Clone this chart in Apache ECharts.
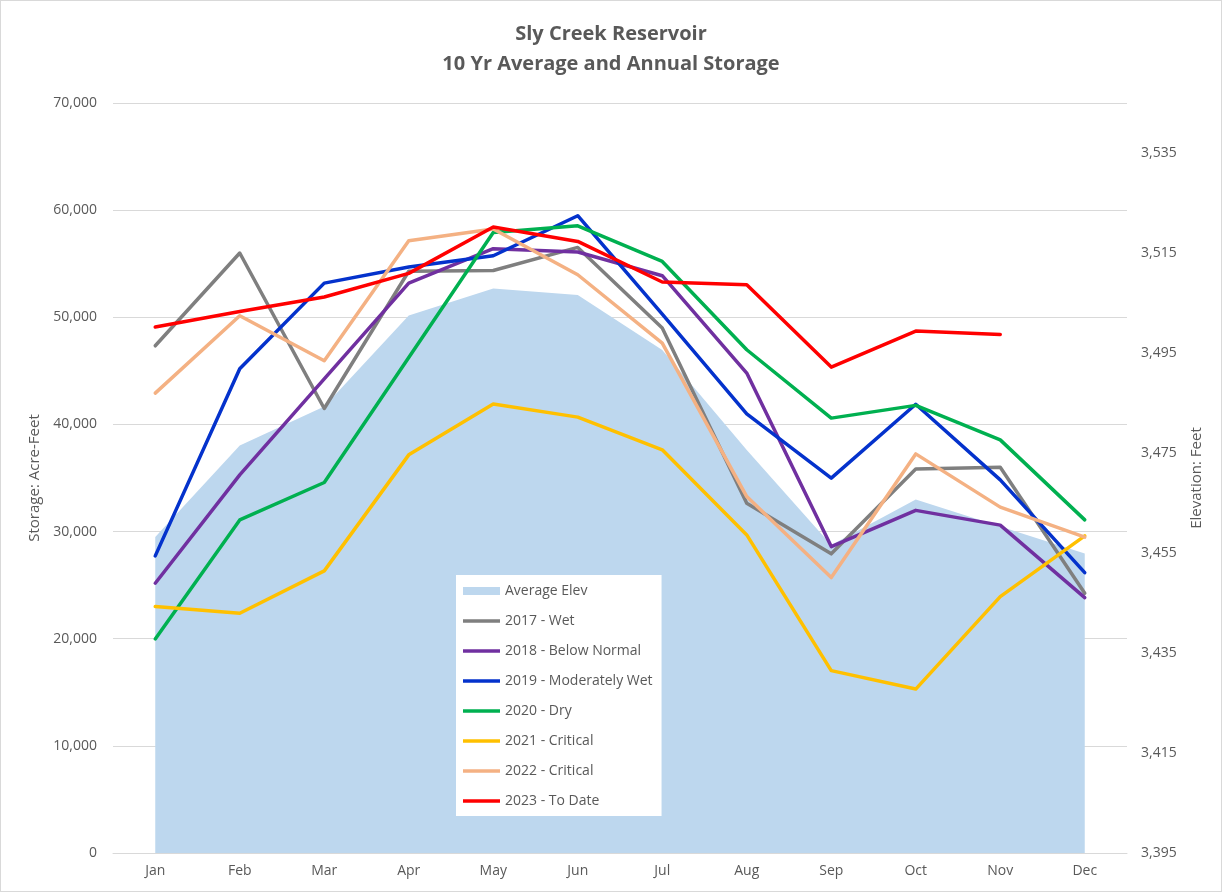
<!DOCTYPE html>
<html>
<head>
<meta charset="utf-8">
<title>Sly Creek Reservoir</title>
<script src="https://cdn.jsdelivr.net/npm/echarts@6/dist/echarts.min.js"></script>
<style>
  html, body { margin: 0; padding: 0; background: #fff; }
  #chart {
    width: 1222px;
    height: 892px;
    box-sizing: border-box;
    border: 1px solid #d9d9d9;
  }
</style>
</head>
<body>
<div id="chart"></div>
<script>
// 月份
const months = ['Jan', 'Feb', 'Mar', 'Apr', 'May', 'Jun', 'Jul', 'Aug', 'Sep', 'Oct', 'Nov', 'Dec'];

// 10年平均水位（英尺，右轴）
const averageElev = [3458.2, 3476.5, 3484.3, 3502.5, 3507.9, 3506.6, 3495.6, 3475.6, 3456.6, 3465.7, 3460.3, 3454.9];

// 各年库容（英亩-英尺，左轴）
const wet2017 = [47340, 56000, 41490, 54300, 54370, 56520, 48990, 32650, 27920, 35850, 36010, 24250];
const belowNormal2018 = [25180, 35290, 44260, 53190, 56400, 56090, 53880, 44790, 28600, 31980, 30600, 23840];
const moderatelyWet2019 = [27730, 45190, 53190, 54690, 55740, 59480, 50300, 40990, 34990, 41880, 34830, 26170];
const dry2020 = [19980, 31090, 34580, 46250, 57920, 58540, 55210, 46970, 40590, 41780, 38560, 31090];
const critical2021 = [23000, 22380, 26330, 37160, 41900, 40680, 37630, 29690, 17020, 15300, 23930, 29600];
const critical2022 = [42920, 50140, 45940, 57140, 58240, 53970, 47590, 33270, 25710, 37250, 32280, 29480];
const toDate2023 = [49085, 50540, 51890, 54100, 58420, 57080, 53290, 53030, 45350, 48710, 48400, null];

const textColor = '#595959';
const gridColor = '#d9d9d9';
const fontFamily = '"Open Sans", "Noto Sans", sans-serif';

const lineSeries = [
  { name: '2017 - Wet', data: wet2017, color: '#7f7f7f' },
  { name: '2018 - Below Normal', data: belowNormal2018, color: '#7030a0' },
  { name: '2019 - Moderately Wet', data: moderatelyWet2019, color: '#0432cc' },
  { name: '2020 - Dry', data: dry2020, color: '#00b050' },
  { name: '2021 - Critical', data: critical2021, color: '#ffc000' },
  { name: '2022 - Critical', data: critical2022, color: '#f4b183' },
  { name: '2023 - To Date', data: toDate2023, color: '#ff0000' }
];

const areaIcon = 'path://M0,0L37,0L37,8L0,8Z';
const lineIcon = 'path://M0,0L37,0L37,3.5L0,3.5Z';

const formatNum = (v) => Number(v).toLocaleString('en-US');

const chart = echarts.init(document.getElementById('chart'));

const option = {
  backgroundColor: '#fff',
  animation: false,
  textStyle: { fontFamily: fontFamily },
  title: {
    text: 'Sly Creek Reservoir\n10 Yr Average and Annual Storage',
    left: 'center',
    top: 13,
    textStyle: {
      color: textColor,
      fontSize: 20,
      fontWeight: 'bold',
      lineHeight: 30,
      fontFamily: fontFamily
    }
  },
  legend: {
    orient: 'vertical',
    left: 455,
    top: 574,
    backgroundColor: '#fff',
    padding: [9, 9, 8, 7],
    itemWidth: 37,
    itemHeight: 14,
    itemGap: 16,
    textStyle: {
      color: textColor,
      fontSize: 14,
      lineHeight: 14,
      fontFamily: fontFamily
    },
    data: [{ name: 'Average Elev', icon: areaIcon }].concat(
      lineSeries.map(s => ({ name: s.name, icon: lineIcon }))
    )
  },
  grid: {
    left: 112,
    right: 94,
    top: 102,
    bottom: 38
  },
  xAxis: {
    type: 'category',
    data: months,
    boundaryGap: true,
    axisLine: { lineStyle: { color: gridColor, width: 1 } },
    axisTick: { show: false },
    axisLabel: { color: textColor, fontSize: 14, margin: 11 }
  },
  yAxis: [
    {
      type: 'value',
      min: 0,
      max: 70000,
      interval: 10000,
      name: 'Storage: Acre-Feet',
      nameLocation: 'middle',
      nameGap: 66,
      nameTextStyle: { color: textColor, fontSize: 15 },
      axisLine: { show: false },
      axisTick: { show: false },
      axisLabel: { color: textColor, fontSize: 14, margin: 16, formatter: formatNum },
      splitLine: { lineStyle: { color: gridColor, width: 1 } }
    },
    {
      type: 'value',
      min: 3395,
      max: 3545,
      interval: 20,
      name: 'Elevation: Feet',
      nameLocation: 'middle',
      nameGap: 62,
      nameTextStyle: { color: textColor, fontSize: 15 },
      axisLine: { show: false },
      axisTick: { show: false },
      axisLabel: { color: textColor, fontSize: 14, margin: 14, showMaxLabel: false, formatter: formatNum },
      splitLine: { show: false }
    }
  ],
  series: [
    {
      name: 'Average Elev',
      type: 'line',
      yAxisIndex: 1,
      data: averageElev,
      showSymbol: false,
      lineStyle: { width: 0 },
      itemStyle: { color: '#bdd7ee' },
      areaStyle: { color: '#bdd7ee', opacity: 1 },
      z: 1
    }
  ].concat(lineSeries.map((s, i) => ({
    name: s.name,
    type: 'line',
    yAxisIndex: 0,
    data: s.data,
    showSymbol: false,
    connectNulls: false,
    itemStyle: { color: s.color },
    lineStyle: { color: s.color, width: 3.5, cap: 'round', join: 'round' },
    z: 2 + i
  })))
};

chart.setOption(option);

window.addEventListener('resize', () => chart.resize());
</script>
</body>
</html>
